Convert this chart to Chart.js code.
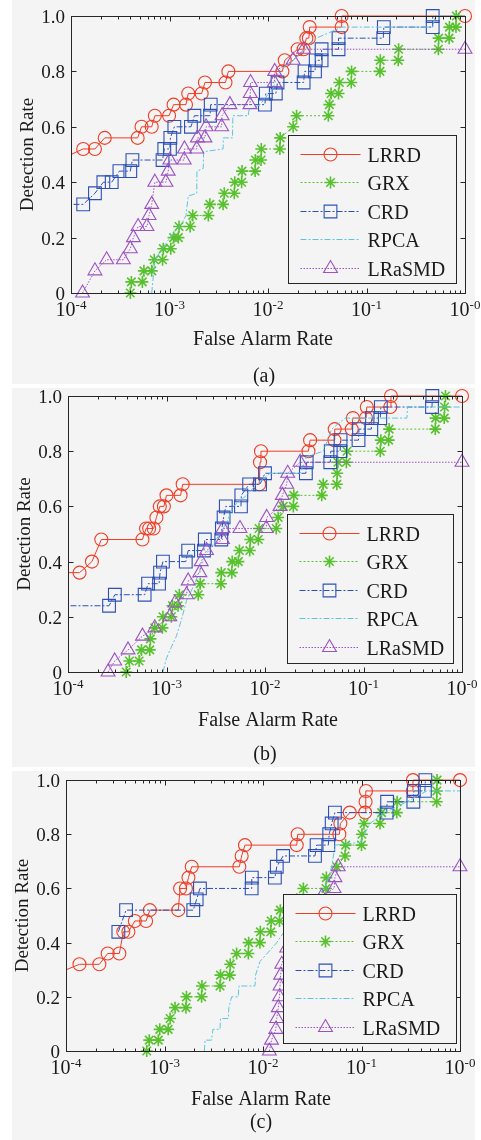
<!DOCTYPE html>
<html>
<head>
<meta charset="utf-8">
<title>ROC curves</title>
<script src="https://cdn.jsdelivr.net/npm/chart.js@4.4.1/dist/chart.umd.min.js"></script>
<style>
  html, body { margin: 0; padding: 0; background: #fff; }
  body { position: relative; width: 481px; height: 1140px; overflow: hidden; }
  .sheet { position: absolute; left: 12px; width: 463px; background: #f4f4f4; }
  canvas { position: absolute; left: 0; }
</style>
</head>
<body>
<div class="sheet" style="top:0;height:384px"></div>
<div class="sheet" style="top:388px;height:379px"></div>
<div class="sheet" style="top:771px;height:369px"></div>
<canvas id="rocA" width="481" height="390" style="top:0"></canvas>
<canvas id="rocB" width="481" height="390" style="top:385px"></canvas>
<canvas id="rocC" width="481" height="370" style="top:770px"></canvas>
<script>
'use strict';
/* ============================================================
   ROC curves — detection rate vs false alarm rate, 3 scenes
   ============================================================ */

const seriesNames = ['LRRD', 'GRX', 'CRD', 'RPCA', 'LRaSMD'];
const tickX       = [1e-4, 1e-3, 1e-2, 1e-1, 1];
const tickXExp    = ['-4', '-3', '-2', '-1', '-0'];
const tickY       = [0, 0.2, 0.4, 0.6, 0.8, 1.0];
const tickYLabels = ['0', '0.2', '0.4', '0.6', '0.8', '1.0'];

// ── scene (a) ────────────────────────────────────────────────
const lrrdFarA = [8e-5, 1.33e-4, 1.75e-4, 2.2e-4, 4.75e-4, 5.2e-4, 6.6e-4, 7.1e-4, 9.9e-4, 1.1e-3, 1.47e-3, 1.55e-3, 2.12e-3, 2.29e-3, 3.7e-3, 3.96e-3, 1.4e-2, 1.48e-2, 2.0e-2, 2.3e-2, 2.45e-2, 2.6e-2, 2.65e-2, 5.6e-2, 5.6e-2, 1];
const lrrdPdA  = [0.485, 0.52, 0.52, 0.56, 0.56, 0.60, 0.60, 0.64, 0.64, 0.68, 0.68, 0.72, 0.72, 0.76, 0.76, 0.80, 0.80, 0.84, 0.88, 0.88, 0.92, 0.92, 0.96, 0.96, 1.0, 1.0];
const grxFarA  = [4.0e-4, 4.1e-4, 5.3e-4, 5.5e-4, 6.6e-4, 7.0e-4, 8.5e-4, 8.65e-4, 1.03e-3, 1.1e-3, 1.23e-3, 1.25e-3, 1.62e-3, 1.72e-3, 2.48e-3, 2.57e-3, 3.5e-3, 3.6e-3, 4.55e-3, 4.6e-3, 5.4e-3, 5.45e-3, 7.4e-3, 7.45e-3, 8.5e-3, 8.55e-3, 1.32e-2, 1.33e-2, 1.8e-2, 1.95e-2, 4.1e-2, 4.2e-2, 4.37e-2, 5.2e-2, 5.3e-2, 7.0e-2, 7.05e-2, 0.137, 0.138, 0.21, 0.212, 0.537, 0.54, 0.69, 0.695, 0.81, 0.815];
const grxPdA   = [0, 0.04, 0.04, 0.08, 0.08, 0.12, 0.12, 0.16, 0.16, 0.20, 0.20, 0.24, 0.24, 0.28, 0.28, 0.32, 0.32, 0.36, 0.36, 0.40, 0.40, 0.44, 0.44, 0.48, 0.48, 0.52, 0.52, 0.56, 0.60, 0.64, 0.64, 0.68, 0.72, 0.72, 0.76, 0.76, 0.80, 0.80, 0.84, 0.84, 0.88, 0.88, 0.92, 0.92, 0.96, 0.96, 1.0];
const crdFarA  = [8e-5, 1.33e-4, 1.75e-4, 2.13e-4, 2.59e-4, 3.1e-4, 4.0e-4, 4.2e-4, 8.5e-4, 8.85e-4, 1.01e-3, 1.02e-3, 1.12e-3, 1.65e-3, 1.79e-3, 2.58e-3, 2.62e-3, 9.3e-3, 9.5e-3, 1.2e-2, 1.25e-2, 2.3e-2, 2.35e-2, 3.0e-2, 3.05e-2, 3.5e-2, 3.5e-2, 5.2e-2, 5.2e-2, 0.148, 0.15, 0.47, 0.47];
const crdPdA   = [0.32, 0.32, 0.36, 0.40, 0.40, 0.44, 0.44, 0.48, 0.48, 0.52, 0.52, 0.56, 0.60, 0.60, 0.64, 0.64, 0.68, 0.68, 0.72, 0.72, 0.76, 0.76, 0.80, 0.80, 0.84, 0.84, 0.88, 0.88, 0.92, 0.92, 0.96, 0.96, 1.0];
const rpcaFarA = [6.6e-4, 7.1e-4, 1.01e-3, 1.33e-3, 1.47e-3, 1.55e-3, 1.89e-3, 1.9e-3, 2.2e-3, 2.22e-3, 3.5e-3, 3.52e-3, 4.36e-3, 4.4e-3, 6.3e-3, 6.4e-3, 8.3e-3, 1.13e-2, 1.28e-2, 1.8e-2, 3.1e-2, 5.6e-2, 0.47, 0.5, 1];
const rpcaPdA  = [0, 0.12, 0.20, 0.25, 0.28, 0.35, 0.36, 0.44, 0.45, 0.51, 0.52, 0.56, 0.56, 0.64, 0.64, 0.66, 0.68, 0.74, 0.80, 0.84, 0.92, 0.96, 0.96, 1.0, 1.0];
const lrasFarA = [1.31e-4, 1.75e-4, 2.3e-4, 3.4e-4, 4.0e-4, 4.3e-4, 4.8e-4, 5.9e-4, 6.2e-4, 6.6e-4, 7.1e-4, 9.2e-4, 9.7e-4, 1.01e-3, 1.41e-3, 1.42e-3, 1.89e-3, 1.92e-3, 2.29e-3, 2.35e-3, 3.38e-3, 3.42e-3, 4.1e-3, 6.56e-3, 6.6e-3, 6.65e-3, 1.16e-2, 1.17e-2, 1.8e-2, 2.3e-2, 1];
const lrasPdA  = [0, 0.08, 0.12, 0.12, 0.16, 0.20, 0.24, 0.24, 0.28, 0.32, 0.40, 0.40, 0.44, 0.48, 0.48, 0.52, 0.52, 0.56, 0.56, 0.60, 0.60, 0.64, 0.68, 0.68, 0.72, 0.76, 0.76, 0.80, 0.84, 0.88, 0.88];

// ── scene (b) ────────────────────────────────────────────────
const lrrdFarB = [8e-5, 1.31e-4, 1.75e-4, 2.18e-4, 5.7e-4, 6.2e-4, 6.67e-4, 7.4e-4, 7.9e-4, 8.55e-4, 9.4e-4, 1.0e-3, 1.39e-3, 1.46e-3, 8.75e-3, 8.9e-3, 9.1e-3, 2.76e-2, 2.87e-2, 5.07e-2, 5.1e-2, 7.6e-2, 7.8e-2, 0.106, 0.108, 0.187, 0.19, 1];
const lrrdPdB  = [0.36, 0.36, 0.40, 0.48, 0.48, 0.52, 0.52, 0.52, 0.56, 0.60, 0.60, 0.64, 0.64, 0.68, 0.68, 0.76, 0.80, 0.80, 0.84, 0.84, 0.88, 0.88, 0.92, 0.92, 0.96, 0.96, 1.0, 1.0];
const grxFarB  = [3.9e-4, 4.2e-4, 5.27e-4, 5.57e-4, 6.76e-4, 6.86e-4, 7.6e-4, 9.1e-4, 9.2e-4, 1.12e-3, 1.15e-3, 1.31e-3, 1.35e-3, 2.1e-3, 2.2e-3, 3.57e-3, 3.6e-3, 4.6e-3, 4.65e-3, 5.36e-3, 5.5e-3, 7.0e-3, 7.1e-3, 8.55e-3, 8.7e-3, 1.3e-2, 1.36e-2, 1.53e-2, 1.94e-2, 1.96e-2, 3.77e-2, 3.9e-2, 5.36e-2, 5.4e-2, 5.5e-2, 6.7e-2, 6.8e-2, 0.148, 0.15, 0.18, 0.182, 0.536, 0.54, 0.66, 0.665, 0.68];
const grxPdB   = [0, 0.04, 0.04, 0.08, 0.08, 0.12, 0.16, 0.16, 0.20, 0.20, 0.24, 0.24, 0.28, 0.28, 0.32, 0.32, 0.36, 0.36, 0.40, 0.40, 0.44, 0.44, 0.48, 0.48, 0.52, 0.52, 0.56, 0.60, 0.60, 0.64, 0.64, 0.68, 0.68, 0.72, 0.76, 0.76, 0.80, 0.80, 0.84, 0.84, 0.88, 0.88, 0.92, 0.92, 0.96, 1.0];
const crdFarB  = [8e-5, 2.61e-4, 2.99e-4, 6.0e-4, 6.5e-4, 8.4e-4, 8.6e-4, 9.2e-4, 1.57e-3, 1.66e-3, 2.4e-3, 2.45e-3, 3.6e-3, 3.65e-3, 3.8e-3, 4.0e-3, 5.7e-3, 5.75e-3, 6.9e-3, 8.9e-3, 1.0e-2, 2.6e-2, 2.65e-2, 4.6e-2, 4.65e-2, 5.8e-2, 5.85e-2, 8.9e-2, 9.0e-2, 0.12, 0.122, 0.148, 0.15, 0.496, 0.5];
const crdPdB   = [0.24, 0.24, 0.28, 0.28, 0.32, 0.32, 0.36, 0.40, 0.40, 0.44, 0.44, 0.48, 0.48, 0.52, 0.56, 0.60, 0.60, 0.64, 0.68, 0.68, 0.72, 0.72, 0.76, 0.76, 0.80, 0.80, 0.84, 0.84, 0.88, 0.88, 0.92, 0.92, 0.96, 0.96, 1.0];
const rpcaFarB = [9.2e-4, 1.0e-3, 1.12e-3, 1.26e-3, 1.42e-3, 1.6e-3, 1.94e-3, 2.46e-3, 3.2e-3, 4.07e-3, 4.76e-3, 6.5e-3, 8.2e-3, 1.12e-2, 2.27e-2, 2.65e-2, 3.9e-2, 4.76e-2, 6.5e-2, 0.276, 0.28, 1];
const rpcaPdB  = [0, 0.05, 0.09, 0.13, 0.19, 0.26, 0.32, 0.42, 0.48, 0.54, 0.60, 0.64, 0.68, 0.72, 0.72, 0.78, 0.80, 0.88, 0.92, 0.92, 0.96, 0.96];
const lrasFarB = [2.55e-4, 2.98e-4, 4.07e-4, 5.7e-4, 7.6e-4, 1.08e-3, 1.22e-3, 1.6e-3, 1.66e-3, 2.18e-3, 2.25e-3, 2.55e-3, 3.7e-3, 3.75e-3, 5.57e-3, 1.03e-2, 1.04e-2, 1.42e-2, 1.5e-2, 1.66e-2, 1.7e-2, 2.27e-2, 1];
const lrasPdB  = [0, 0.04, 0.08, 0.13, 0.16, 0.20, 0.25, 0.28, 0.33, 0.36, 0.40, 0.44, 0.48, 0.52, 0.52, 0.52, 0.56, 0.60, 0.64, 0.68, 0.72, 0.76, 0.76];

// ── scene (c) ────────────────────────────────────────────────
const lrrdFarC = [8e-5, 1.37e-4, 2.18e-4, 2.65e-4, 3.48e-4, 3.82e-4, 4.3e-4, 5.0e-4, 6.5e-4, 7.1e-4, 1.38e-3, 1.44e-3, 1.65e-3, 1.75e-3, 1.89e-3, 5.75e-3, 6.07e-3, 6.56e-3, 2.2e-2, 2.25e-2, 5.96e-2, 6.1e-2, 7.6e-2, 0.109, 0.11, 0.111, 0.331, 0.333, 1];
const lrrdPdC  = [0.285, 0.32, 0.32, 0.36, 0.36, 0.44, 0.44, 0.48, 0.48, 0.52, 0.52, 0.60, 0.60, 0.64, 0.68, 0.68, 0.72, 0.76, 0.76, 0.80, 0.80, 0.84, 0.88, 0.88, 0.92, 0.96, 0.96, 1.0, 1.0];
const grxFarC  = [6.6e-4, 7.0e-4, 8.65e-4, 8.95e-4, 1.09e-3, 1.14e-3, 1.28e-3, 1.65e-3, 1.67e-3, 2.38e-3, 2.4e-3, 3.66e-3, 3.7e-3, 4.6e-3, 4.65e-3, 5.4e-3, 7.1e-3, 7.15e-3, 9.3e-3, 9.4e-3, 1.2e-2, 1.21e-2, 1.47e-2, 1.5e-2, 1.9e-2, 2.2e-2, 2.57e-2, 4.36e-2, 4.4e-2, 5.6e-2, 6.8e-2, 6.9e-2, 0.1, 0.101, 0.106, 0.154, 0.16, 0.228, 0.23, 0.58, 0.582, 0.585];
const grxPdC   = [0, 0.04, 0.04, 0.08, 0.08, 0.12, 0.16, 0.16, 0.20, 0.20, 0.24, 0.24, 0.28, 0.28, 0.32, 0.36, 0.36, 0.40, 0.40, 0.44, 0.44, 0.48, 0.48, 0.52, 0.52, 0.56, 0.60, 0.60, 0.64, 0.68, 0.72, 0.76, 0.76, 0.80, 0.84, 0.84, 0.88, 0.88, 0.92, 0.92, 0.96, 1.0];
const crdFarC  = [3.4e-4, 4.07e-4, 1.96e-3, 2.12e-3, 2.29e-3, 7.67e-3, 7.7e-3, 1.32e-2, 1.38e-2, 1.6e-2, 3.37e-2, 3.5e-2, 4.6e-2, 4.7e-2, 4.98e-2, 5.37e-2, 0.18, 0.182, 0.336, 0.34, 0.44, 0.445];
const crdPdC   = [0.44, 0.52, 0.52, 0.56, 0.60, 0.60, 0.64, 0.64, 0.68, 0.72, 0.72, 0.76, 0.76, 0.80, 0.84, 0.88, 0.88, 0.92, 0.92, 0.96, 0.96, 1.0];
const rpcaFarC = [2.54e-3, 2.58e-3, 3.0e-3, 3.1e-3, 3.66e-3, 3.7e-3, 4.45e-3, 4.5e-3, 4.8e-3, 5.6e-3, 5.7e-3, 8.3e-3, 8.4e-3, 9.3e-3, 1.38e-2, 2.03e-2, 3.2e-2, 4.26e-2, 4.98e-2, 5.4e-2, 9.7e-2, 0.122, 0.173, 0.288, 0.46, 1];
const rpcaPdC  = [0, 0.04, 0.04, 0.08, 0.08, 0.12, 0.12, 0.16, 0.20, 0.20, 0.24, 0.24, 0.28, 0.33, 0.40, 0.49, 0.56, 0.60, 0.68, 0.76, 0.77, 0.84, 0.88, 0.92, 0.96, 0.96];
const lrasFarC = [1.16e-2, 1.22e-2, 1.35e-2, 1.38e-2, 1.43e-2, 1.47e-2, 1.49e-2, 1.51e-2, 1.55e-2, 1.74e-2, 3.94e-2, 5.26e-2, 5.38e-2, 5.8e-2, 1];
const lrasPdC  = [0, 0.04, 0.08, 0.12, 0.16, 0.20, 0.24, 0.28, 0.32, 0.38, 0.57, 0.60, 0.64, 0.68, 0.68];

// ── look & feel ──────────────────────────────────────────────
const PANEL_BG = '#f4f4f4';
const INK      = '#1a1a1a';
const SERIF    = '"Liberation Serif", "Times New Roman", serif';

const STYLES = {
  LRRD:   { color: '#ee3d26', dash: [],           marker: 'circle',   radius: 6.5, width: 1.1 },
  GRX:    { color: '#58c22e', dash: [2, 2],       marker: 'star',     radius: 6,   width: 1.6 },
  CRD:    { color: '#2c50b6', dash: [6, 2, 2, 2], marker: 'rect',     radius: 9,   width: 1.1 },
  RPCA:   { color: '#5cc5de', dash: [6, 2, 2, 2], marker: 'circle',   radius: 0,   width: 1 },
  LRaSMD: { color: '#9b52c2', dash: [1.5, 1.5],   marker: 'triangle', radius: 8,   width: 1.1 }
};

function toPoints(far, pd) {
  return far.map((v, i) => ({ x: v, y: pd[i] }));
}

function makeDataset(name, far, pd, order) {
  const s = STYLES[name];
  return {
    label: name,
    data: toPoints(far, pd),
    borderColor: s.color,
    borderWidth: 1,
    borderDash: s.dash,
    pointStyle: s.marker,
    pointRadius: s.radius,
    pointHoverRadius: s.radius,
    pointBorderColor: s.color,
    pointBackgroundColor: 'rgba(0,0,0,0)',
    pointBorderWidth: s.width,
    clip: { left: 0, top: 12, right: 12, bottom: 12 },
    tension: 0,
    fill: false,
    order
  };
}

// box, inward ticks (log minors on x), like a matlab axes
const axesFrame = {
  id: 'axesFrame',
  afterDatasetsDraw(chart) {
    const { ctx, chartArea: a, scales: { x, y } } = chart;
    const L = Math.round(a.left) + 0.5, R = Math.round(a.right) + 0.5;
    const T = Math.round(a.top) + 0.5, B = Math.round(a.bottom) + 0.5;
    ctx.save();
    ctx.strokeStyle = '#262626';
    ctx.lineWidth = 1;
    ctx.setLineDash([]);
    ctx.beginPath();
    for (let d = 0; d < tickX.length - 1; d++) {
      for (let m = 1; m < 10; m++) {
        const px = Math.round(x.getPixelForValue(tickX[d] * m)) + 0.5;
        const len = m === 1 ? 5 : 3;
        ctx.moveTo(px, B); ctx.lineTo(px, B - len);
        ctx.moveTo(px, T); ctx.lineTo(px, T + len);
      }
    }
    tickY.forEach(v => {
      const py = Math.round(y.getPixelForValue(v)) + 0.5;
      ctx.moveTo(L, py); ctx.lineTo(L + 5, py);
      ctx.moveTo(R, py); ctx.lineTo(R - 5, py);
    });
    ctx.stroke();
    ctx.strokeRect(L, T, R - L, B - T);
    ctx.restore();
  }
};

// tick labels, axis titles and the panel caption
const axisText = {
  id: 'axisText',
  afterDraw(chart, args, o) {
    const { ctx, chartArea: a, scales: { x, y } } = chart;
    ctx.save();
    ctx.fillStyle = INK;

    ctx.font = `19px ${SERIF}`;
    ctx.textAlign = 'right';
    ctx.textBaseline = 'alphabetic';
    tickY.forEach((v, i) => {
      ctx.fillText(tickYLabels[i], a.left - 6, y.getPixelForValue(v) + 7);
    });

    ctx.textAlign = 'left';
    tickX.forEach((v, i) => {
      ctx.font = `20px ${SERIF}`;
      const wb = ctx.measureText('10').width;
      ctx.font = `13px ${SERIF}`;
      const we = ctx.measureText(tickXExp[i]).width;
      const x0 = x.getPixelForValue(v) - (wb + we) / 2;
      ctx.font = `20px ${SERIF}`;
      ctx.fillText('10', x0, a.bottom + 23);
      ctx.font = `13px ${SERIF}`;
      ctx.fillText(tickXExp[i], x0 + wb, a.bottom + 16);
    });

    ctx.textAlign = 'center';
    ctx.font = `20px ${SERIF}`;
    ctx.fillText('False Alarm Rate', o.titleX, a.bottom + o.titleDy);
    ctx.fillText(o.caption, o.captionX, a.bottom + o.captionDy);

    ctx.translate(a.left - 38, (a.top + a.bottom) / 2);
    ctx.rotate(-Math.PI / 2);
    ctx.font = `19px ${SERIF}`;
    ctx.fillText('Detection Rate', 0, 0);
    ctx.restore();
  }
};

// boxed legend in the lower right: line sample with the marker on it
const boxLegend = {
  id: 'boxLegend',
  afterDraw(chart, args, o) {
    const { ctx, chartArea: a } = chart;
    const left = Math.round(a.right - o.right - o.width) + 0.5;
    const top  = Math.round(a.bottom - o.bottom - o.height) + 0.5;
    ctx.save();
    ctx.fillStyle = PANEL_BG;
    ctx.fillRect(left, top, o.width, o.height);
    ctx.strokeStyle = '#262626';
    ctx.lineWidth = 1;
    ctx.setLineDash([]);
    ctx.strokeRect(left, top, o.width, o.height);

    chart.data.datasets.forEach((ds, i) => {
      const cy = Math.round(top + 18 + i * 28.5) + 0.5;
      ctx.strokeStyle = ds.borderColor;
      ctx.lineWidth = ds.borderWidth;
      ctx.setLineDash(ds.borderDash);
      ctx.beginPath();
      ctx.moveTo(left + 12, cy);
      ctx.lineTo(left + 72, cy);
      ctx.stroke();
      if (ds.pointRadius > 0) {
        ctx.setLineDash([]);
        ctx.lineWidth = ds.pointBorderWidth;
        ctx.fillStyle = 'rgba(0,0,0,0)';
        Chart.helpers.drawPoint(ctx, {
          pointStyle: ds.pointStyle, rotation: 0,
          radius: ds.pointRadius, borderWidth: ds.pointBorderWidth
        }, left + 42, cy);
      }
      ctx.fillStyle = INK;
      ctx.font = `20px ${SERIF}`;
      ctx.textAlign = 'left';
      ctx.fillText(ds.label, left + 79, cy + 7);
    });
    ctx.restore();
  }
};

function drawRoc(canvasId, sets, frame) {
  const datasets = seriesNames.map((name, i) =>
    makeDataset(name, sets[i][0], sets[i][1], seriesNames.length - i));
  return new Chart(document.getElementById(canvasId), {
    type: 'line',
    data: { datasets },
    options: {
      responsive: false,
      animation: false,
      events: [],
      layout: { padding: frame.pad },
      scales: {
        x: { type: 'logarithmic', min: 1e-4, max: 1, display: false },
        y: { type: 'linear', min: 0, max: 1, display: false }
      },
      plugins: {
        legend: { display: false },
        tooltip: { enabled: false },
        axisText: frame.text,
        boxLegend: frame.legend
      }
    },
    plugins: [axesFrame, axisText, boxLegend]
  });
}

drawRoc('rocA', [
  [lrrdFarA, lrrdPdA], [grxFarA, grxPdA], [crdFarA, crdPdA], [rpcaFarA, rpcaPdA], [lrasFarA, lrasPdA]
], {
  pad: { left: 71, right: 16, top: 16, bottom: 97 },
  text: { caption: '(a)', captionX: 264, captionDy: 89, titleX: 263, titleDy: 52 },
  legend: { right: 9, bottom: 10, width: 168, height: 148 }
});

drawRoc('rocB', [
  [lrrdFarB, lrrdPdB], [grxFarB, grxPdB], [crdFarB, crdPdB], [rpcaFarB, rpcaPdB], [lrasFarB, lrasPdB]
], {
  pad: { left: 68, right: 19, top: 11, bottom: 103 },
  text: { caption: '(b)', captionX: 265, captionDy: 88, titleX: 268, titleDy: 54 },
  legend: { right: 9, bottom: 9, width: 166, height: 149 }
});

drawRoc('rocC', [
  [lrrdFarC, lrrdPdC], [grxFarC, grxPdC], [crdFarC, crdPdC], [rpcaFarC, rpcaPdC], [lrasFarC, lrasPdC]
], {
  pad: { left: 66, right: 21, top: 6, bottom: 89 },
  text: { caption: '(c)', captionX: 261, captionDy: 77, titleX: 261, titleDy: 54 },
  legend: { right: 4, bottom: 8, width: 173, height: 149 }
});
</script>
</body>
</html>
